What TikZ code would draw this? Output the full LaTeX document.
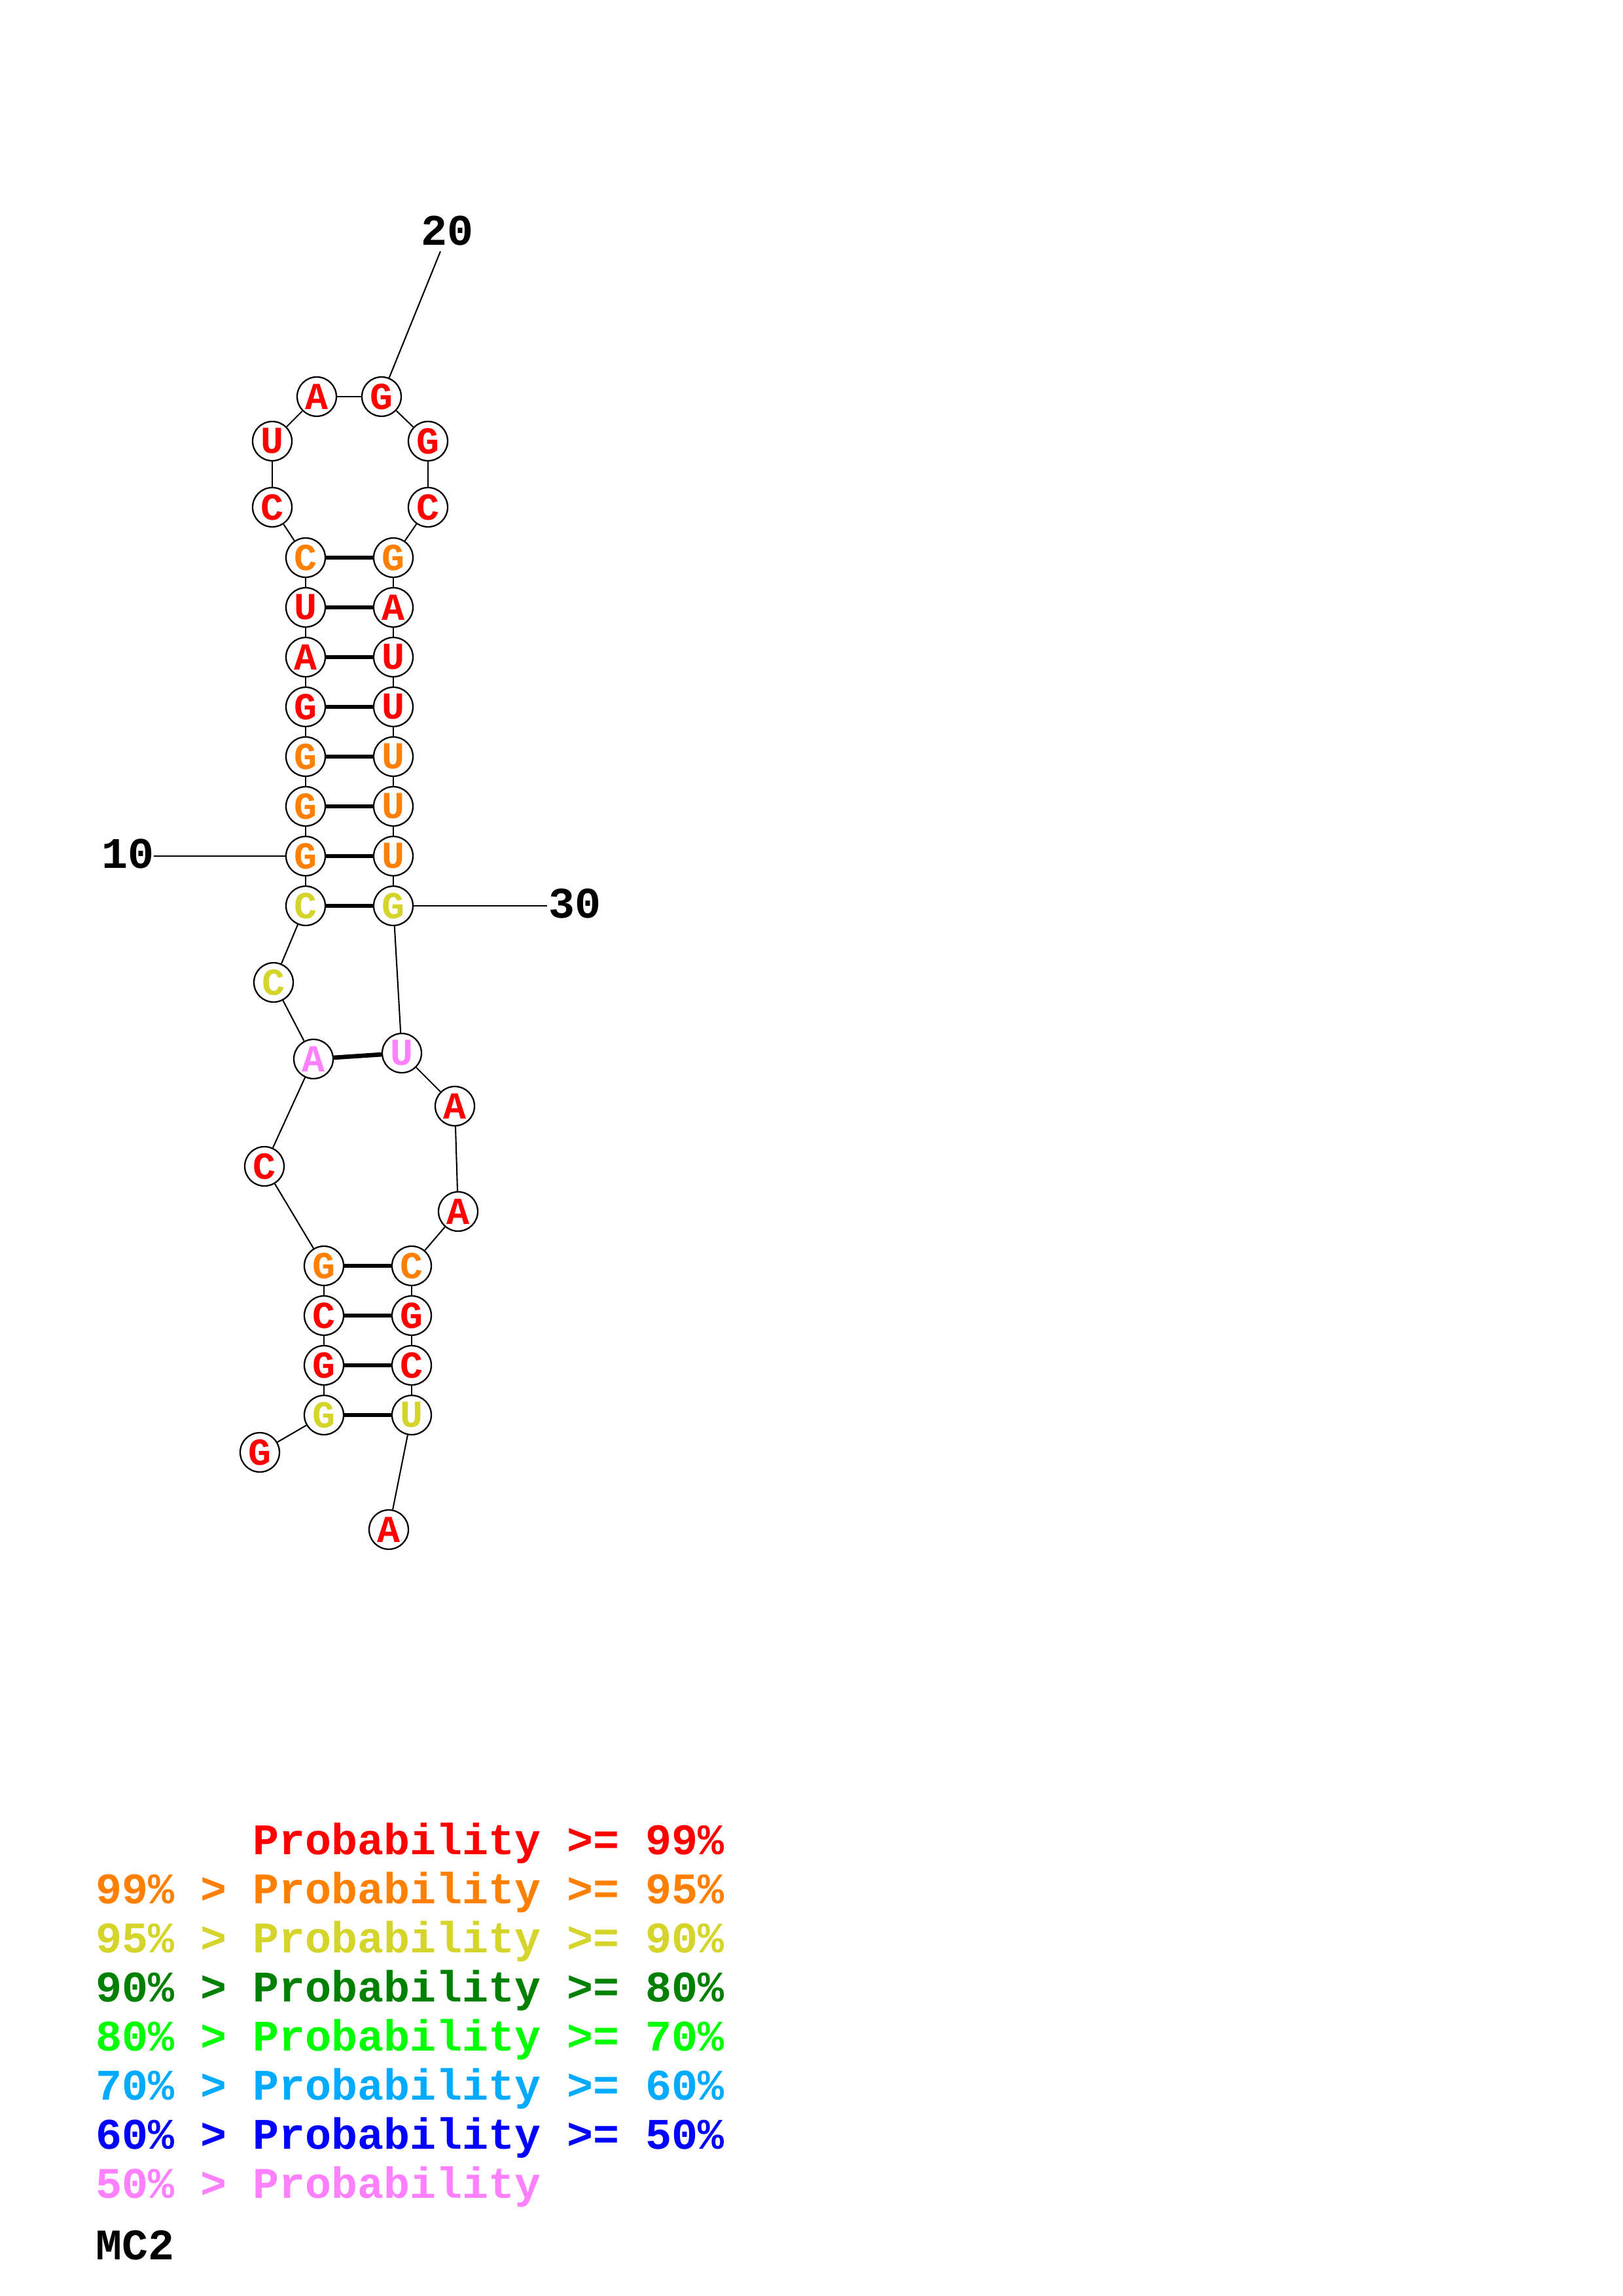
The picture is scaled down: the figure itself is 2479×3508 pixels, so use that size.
\documentclass[tikz,border=0pt]{standalone}
\usepackage{fontspec}
\newfontfamily\mono{Liberation Mono}
\definecolor{cRed}{HTML}{FF0000}
\definecolor{cOrange}{HTML}{FF8000}
\definecolor{cYellow}{HTML}{D4D42A}
\definecolor{cDGreen}{HTML}{008000}
\definecolor{cGreen}{HTML}{00FF00}
\definecolor{cLBlue}{HTML}{00AAFF}
\definecolor{cBlue}{HTML}{0000FF}
\definecolor{cPink}{HTML}{FF80FF}
\begin{document}
\begin{tikzpicture}[x=0.24pt,y=-0.24pt,
  nt/.style={circle,draw=black,line width=0.55pt,fill=white,minimum size=14.4pt,inner sep=0pt,
    font=\mono\bfseries\fontsize{14}{14}\selectfont,text=#1},
  bb/.style={line width=0.5pt},
  bp/.style={line width=1.6pt},
  lbl/.style={font=\mono\bfseries\fontsize{16}{16}\selectfont,inner sep=0pt},
  leg/.style={font=\mono\bfseries\fontsize{16}{16}\selectfont,inner sep=0pt,anchor=base west,text=#1}]
\useasboundingbox[fill=white] (0,0) rectangle (2479,3508);
% nucleotides
\node[nt=cRed]    (n1)  at (397,2219) {G};
\node[nt=cYellow] (n2)  at (495,2162) {G};
\node[nt=cRed]    (n3)  at (495,2086) {G};
\node[nt=cRed]    (n4)  at (495,2010) {C};
\node[nt=cOrange] (n5)  at (495,1934) {G};
\node[nt=cRed]    (n6)  at (404,1782) {C};
\node[nt=cPink]   (n7)  at (479,1618) {A};
\node[nt=cYellow] (n8)  at (418,1501) {C};
\node[nt=cYellow] (n9)  at (467,1384) {C};
\node[nt=cOrange] (n10) at (467,1308) {G};
\node[nt=cOrange] (n11) at (467,1232) {G};
\node[nt=cOrange] (n12) at (467,1156) {G};
\node[nt=cRed]    (n13) at (467,1080) {G};
\node[nt=cRed]    (n14) at (467,1004) {A};
\node[nt=cRed]    (n15) at (467,928)  {U};
\node[nt=cOrange] (n16) at (467,852)  {C};
\node[nt=cRed]    (n17) at (416,775)  {C};
\node[nt=cRed]    (n18) at (416,674)  {U};
\node[nt=cRed]    (n19) at (484,606)  {A};
\node[nt=cRed]    (n20) at (583,606)  {G};
\node[nt=cRed]    (n21) at (654,674)  {G};
\node[nt=cRed]    (n22) at (654,775)  {C};
\node[nt=cOrange] (n23) at (601,852)  {G};
\node[nt=cRed]    (n24) at (601,928)  {A};
\node[nt=cRed]    (n25) at (601,1004) {U};
\node[nt=cRed]    (n26) at (601,1080) {U};
\node[nt=cOrange] (n27) at (601,1156) {U};
\node[nt=cOrange] (n28) at (601,1232) {U};
\node[nt=cOrange] (n29) at (601,1308) {U};
\node[nt=cYellow] (n30) at (601,1384) {G};
\node[nt=cPink]   (n31) at (614,1609) {U};
\node[nt=cRed]    (n32) at (695,1690) {A};
\node[nt=cRed]    (n33) at (700,1851) {A};
\node[nt=cOrange] (n34) at (629,1934) {C};
\node[nt=cRed]    (n35) at (629,2010) {G};
\node[nt=cRed]    (n36) at (629,2086) {C};
\node[nt=cYellow] (n37) at (629,2162) {U};
\node[nt=cRed]    (n38) at (594,2337) {A};
% backbone
\foreach \a/\b in {1/2,2/3,3/4,4/5,5/6,6/7,7/8,8/9,9/10,10/11,11/12,12/13,13/14,14/15,15/16,16/17,17/18,18/19,19/20,
  20/21,21/22,22/23,23/24,24/25,25/26,26/27,27/28,28/29,29/30,30/31,31/32,32/33,33/34,34/35,35/36,36/37,37/38}
  \draw[bb] (n\a) -- (n\b);
% base pairs
\foreach \a/\b in {2/37,3/36,4/35,5/34,7/31,9/30,10/29,11/28,12/27,13/26,14/25,15/24,16/23}
  \draw[bp] (n\a) -- (n\b);
% numbering
\coordinate (t20) at (673,384);
\coordinate (t10) at (235,1308);
\coordinate (t30) at (836,1384);
\draw[bb] (n20) -- (t20);
\draw[bb] (n10) -- (t10);
\draw[bb] (n30) -- (t30);
\node[lbl,anchor=base] (l20) at (683,375) {20};
\node[lbl,anchor=base east] (l10) at (236,1326) {10};
\node[lbl,anchor=base west] (l30) at (838,1402) {30};
% legend
\node[leg=cRed]    (g1) at (146,2833) {\phantom{99\%\ >\ }Probability\ >=\ 99\%};
\node[leg=cOrange] (g2) at (146,2908) {99\%\ >\ Probability\ >=\ 95\%};
\node[leg=cYellow] (g3) at (146,2983) {95\%\ >\ Probability\ >=\ 90\%};
\node[leg=cDGreen] (g4) at (146,3058) {90\%\ >\ Probability\ >=\ 80\%};
\node[leg=cGreen]  (g5) at (146,3133) {80\%\ >\ Probability\ >=\ 70\%};
\node[leg=cLBlue]  (g6) at (146,3208) {70\%\ >\ Probability\ >=\ 60\%};
\node[leg=cBlue]   (g7) at (146,3283) {60\%\ >\ Probability\ >=\ 50\%};
\node[leg=cPink]   (g8) at (146,3358) {50\%\ >\ Probability};
\node[leg=black]   (mc) at (146,3452) {MC2};
\end{tikzpicture}
\end{document}
